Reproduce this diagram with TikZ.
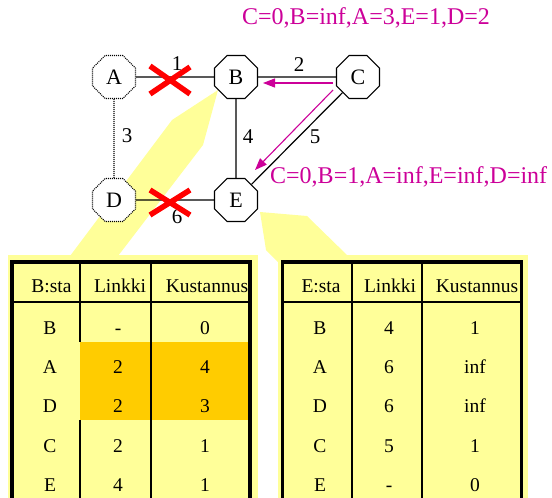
\documentclass[tikz,border=0pt]{standalone}
\usepackage{fontspec}
\setmainfont{Liberation Serif}
\usetikzlibrary{shapes.geometric,arrows.meta}
\definecolor{mag}{RGB}{204,0,153}
\definecolor{callout}{RGB}{255,255,153}
\definecolor{hl}{RGB}{255,204,0}
\begin{document}
\begin{tikzpicture}[x=1pt,y=-1pt,
 router/.style={regular polygon, regular polygon sides=8, minimum size=46.5pt, inner sep=0pt, draw, fill=white, line width=1.1pt, font=\fontsize{22}{24}\selectfont},
 downrouter/.style={router, dash pattern=on 1pt off 1pt},
 lbl/.style={font=\fontsize{21}{24}\selectfont, inner sep=0pt},
 link/.style={line width=1.2pt},
 deadlink/.style={line width=1.1pt, dash pattern=on 1pt off 1pt},
 cross/.style={red, line width=5.5pt},
 upd/.style={mag, line width=1.1pt, -{Triangle[length=12pt,width=9pt]}},
 msg/.style={mag, font=\fontsize{24}{26}\selectfont, inner sep=0pt, anchor=base west},
 cell/.style={font=\fontsize{19.5}{22}\selectfont, inner sep=0pt, anchor=base},
 outerline/.style={line width=3.2pt},
 innerline/.style={line width=1.7pt}]
\useasboundingbox (0,0) rectangle (552,498);

% callouts
\fill[callout] (8,255) rectangle (258,498);
\fill[callout] (218,90) -- (203,145) -- (118,256) -- (70,256) -- (172,120) -- cycle;
\fill[callout] (278,255) rectangle (528,498);
\fill[callout] (260,212) -- (307,216) -- (348,256) -- (278,256) -- (278,262) -- (266,250) -- cycle;

% routers
\node[downrouter] (A) at (114,77) {A};
\node[router] (B) at (236,77) {B};
\node[router] (C) at (358,77) {C};
\node[downrouter] (D) at (114,200) {D};
\node[router] (E) at (236,200) {E};

% links
\draw[link] (A) -- (B);
\draw[deadlink] (A) -- (D);
\draw[link] (B) -- (C);
\draw[link] (B) -- (E);
\draw[link] (C) -- (E);
\draw[link] (D) -- (E);

% link labels
\node[lbl] (l1) at (177,64) {1};
\node[lbl] (l2) at (299,65) {2};
\node[lbl] (l3) at (127,136) {3};
\node[lbl] (l4) at (248,137) {4};
\node[lbl] (l5) at (315,137) {5};
\node[lbl] (l6) at (177,217) {6};

% broken links
\draw[cross] (150,66) -- (190,94) (150,94) -- (190,67);
\draw[cross] (150,190) -- (190,215) (150,215) -- (190,190);

% updates
\coordinate (cb1) at (333,83);
\coordinate (cb2) at (263,83);
\coordinate (ce1) at (333,90);
\coordinate (ce2) at (255,170);
\draw[upd] (cb1) -- (cb2);
\draw[upd] (ce1) -- (ce2);
\node[msg] (m1) at (242,24) {C=0,B=inf,A=3,E=1,D=2};
\node[msg] (m2) at (270,183) {C=0,B=1,A=inf,E=inf,D=inf};

% left table
\fill[hl] (80,342) rectangle (250.5,420);
\draw[innerline] (80,262) -- (80,342) (80,420) -- (80,498);
\draw[innerline] (151,262) -- (151,498);
\draw[innerline] (12,302) -- (250,302);
\draw[outerline] (12,498) -- (12,262) -- (250,262) -- (250,498);
\node[cell] (lh1) at (51.5,292.5) {B:sta};
\node[cell] (lh2) at (120,292.5) {Linkki};
\node[cell] (lh3) at (207,292.5) {Kustannus};
\foreach \r/\a/\b [count=\i] in {B/-/0, A/2/4, D/2/3, C/2/1, E/4/1} {
  \pgfmathsetmacro\yy{334.5+39.2*(\i-1)}
  \node[cell] (lr\i-1) at (50,\yy) {\r};
  \node[cell] (lr\i-2) at (118,\yy) {\a};
  \node[cell] (lr\i-3) at (205,\yy) {\b};
}

% right table
\draw[innerline] (352,262) -- (352,498);
\draw[innerline] (422,262) -- (422,498);
\draw[innerline] (282.5,302) -- (521.5,302);
\draw[outerline] (282.5,498) -- (282.5,262) -- (521.5,262) -- (521.5,498);
\node[cell] (rh1) at (321,292.5) {E:sta};
\node[cell] (rh2) at (390,292.5) {Linkki};
\node[cell] (rh3) at (477,292.5) {Kustannus};
\foreach \r/\a/\b [count=\i] in {B/4/1, A/6/inf, D/6/inf, C/5/1, E/-/0} {
  \pgfmathsetmacro\yy{334.5+39.2*(\i-1)}
  \node[cell] (rr\i-1) at (320,\yy) {\r};
  \node[cell] (rr\i-2) at (389,\yy) {\a};
  \node[cell] (rr\i-3) at (475,\yy) {\b};
}
\end{tikzpicture}
\end{document}
